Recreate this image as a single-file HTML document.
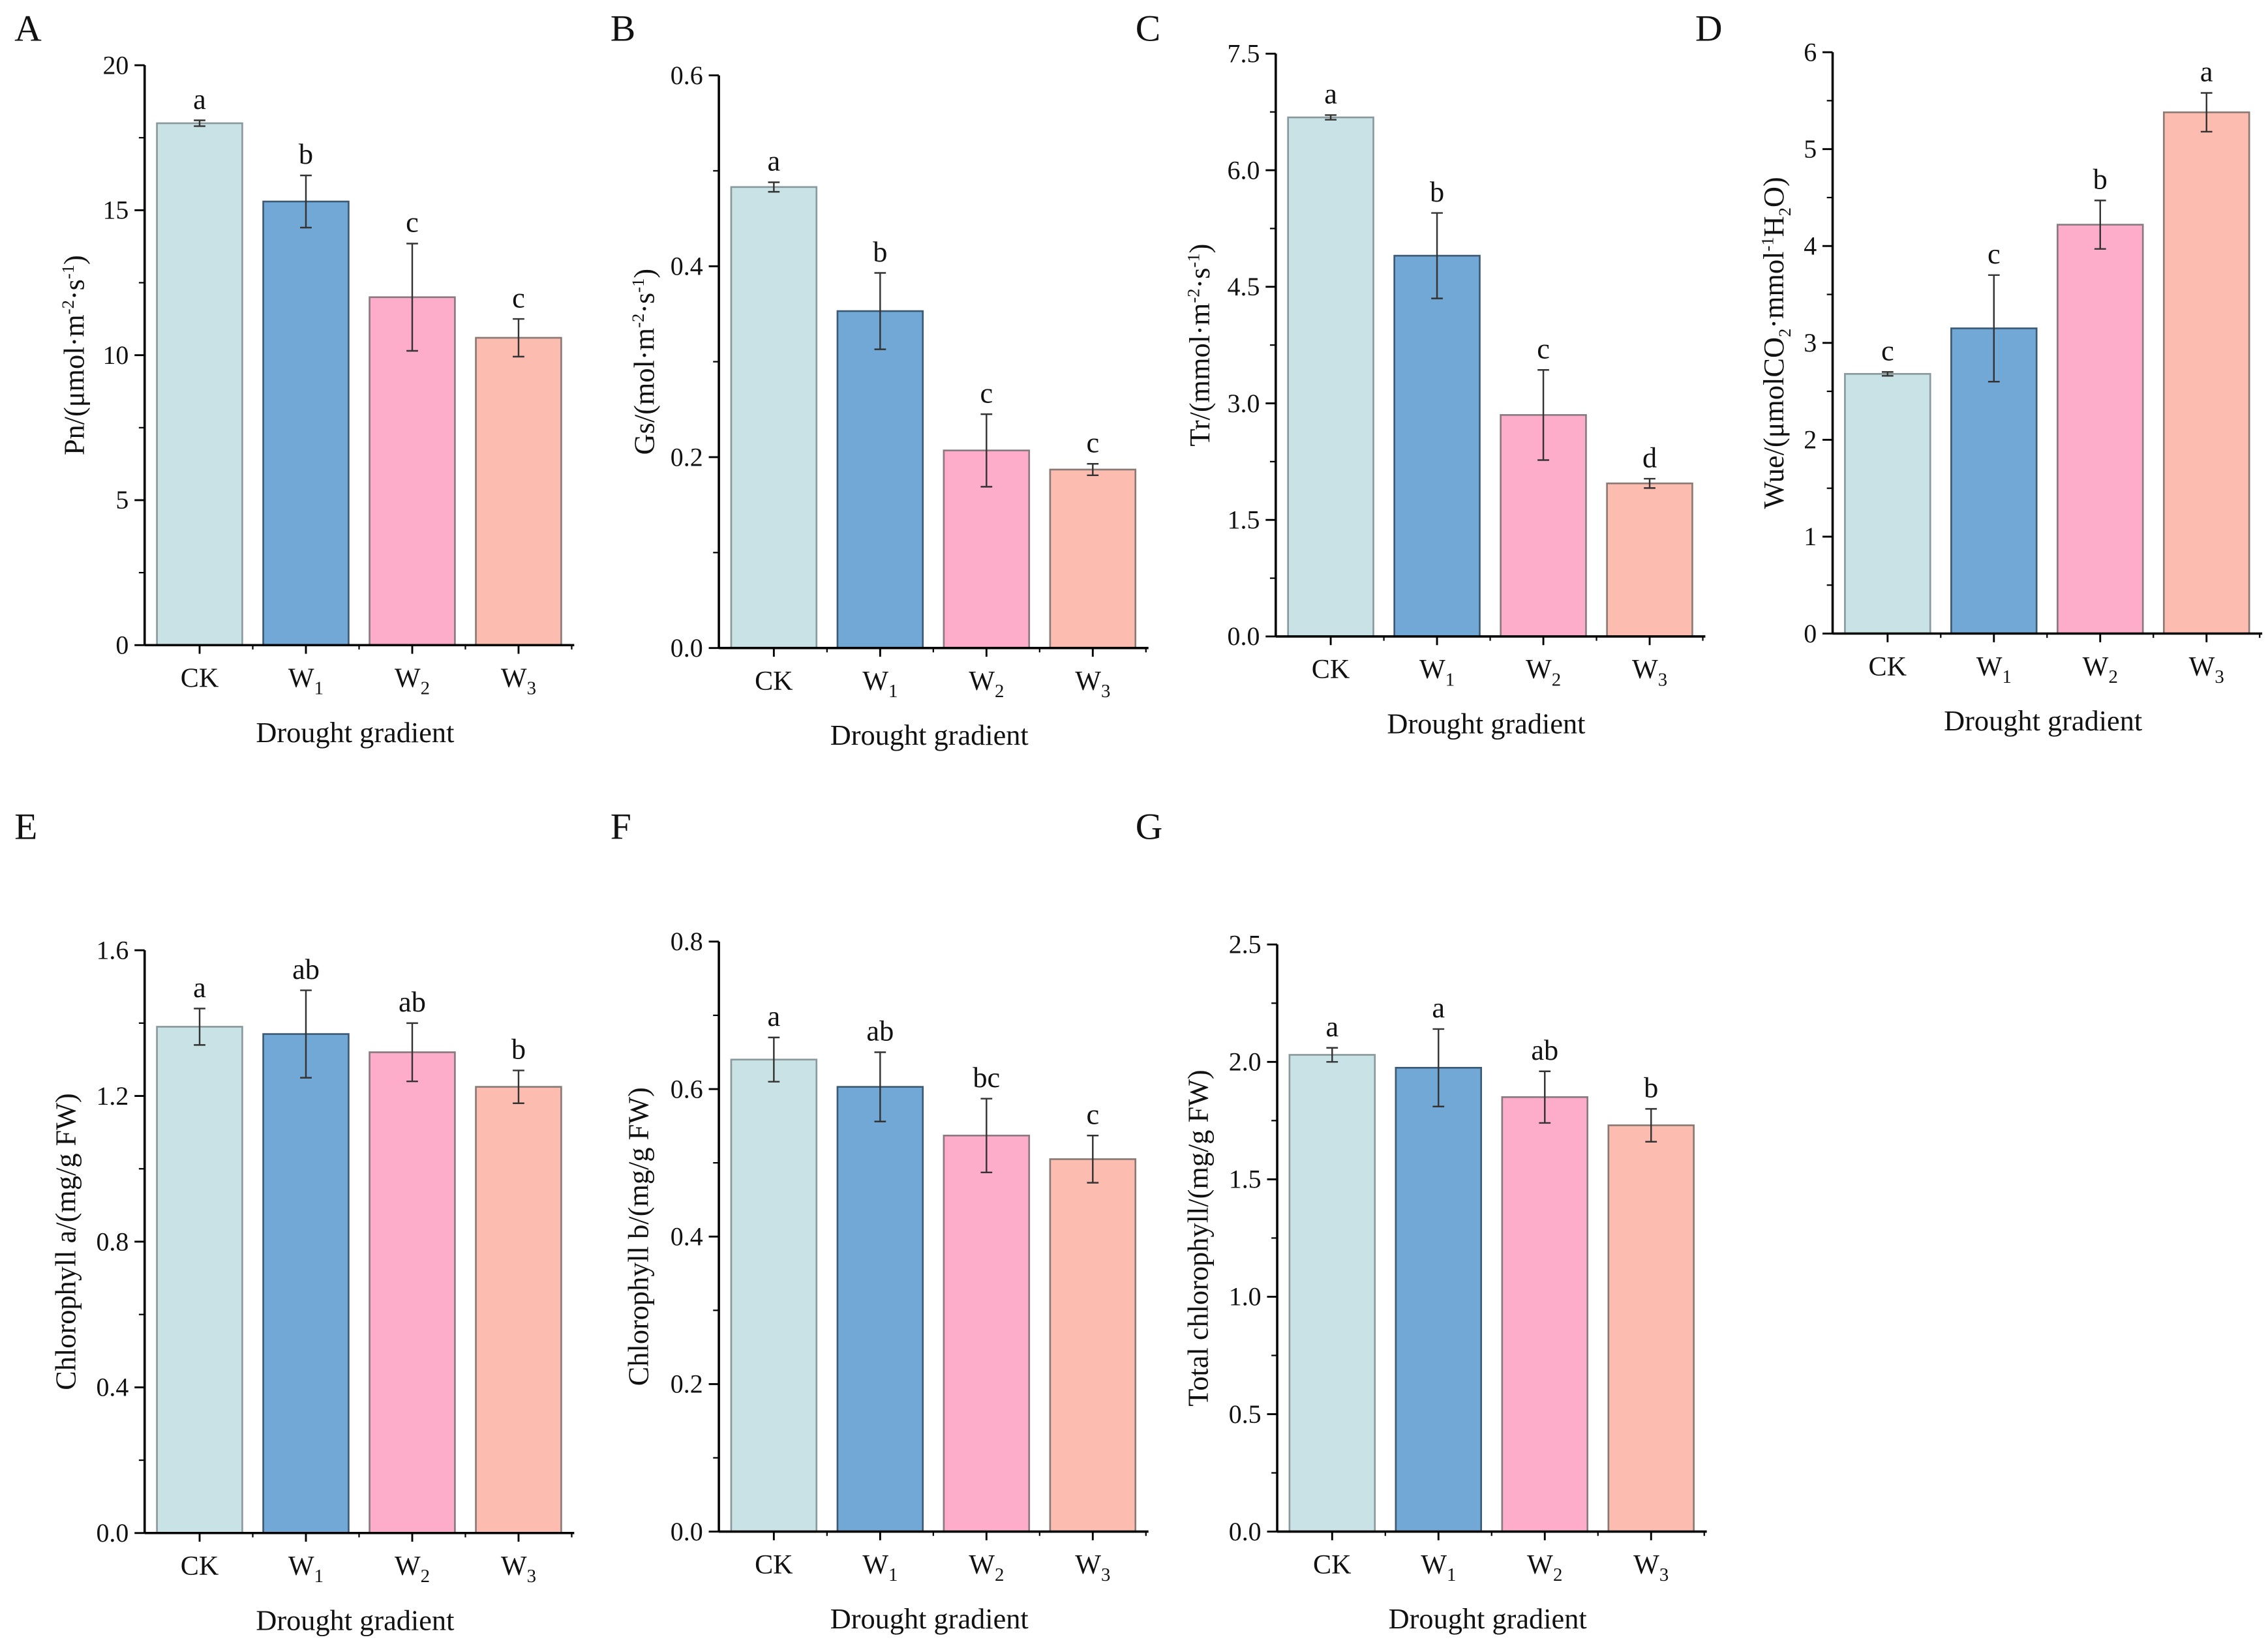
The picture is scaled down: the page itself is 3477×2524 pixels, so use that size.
<!DOCTYPE html>
<html><head><meta charset="utf-8"><style>
html,body{margin:0;padding:0;background:#fff}
svg{display:block}
svg text, svg tspan{font-family:"Liberation Serif","Times New Roman",serif !important;fill:#111}
</style></head><body>
<svg id="fig" width="3477" height="2524" viewBox="0 0 1568 1138" font-family="Liberation Serif, serif"></svg>
<script>
const categories=["CK","W1","W2","W3"];
const pnValues=[18.0,15.3,12.0,10.6];
const pnErrors=[0.1,0.9,1.85,0.65];
const pnLetters=["a","b","c","c"];
const gsValues=[0.483,0.353,0.207,0.187];
const gsErrors=[0.005,0.04,0.038,0.006];
const gsLetters=["a","b","c","c"];
const trValues=[6.68,4.9,2.85,1.97];
const trErrors=[0.03,0.55,0.58,0.06];
const trLetters=["a","b","c","d"];
const wueValues=[2.68,3.15,4.22,5.38];
const wueErrors=[0.02,0.55,0.25,0.2];
const wueLetters=["c","c","b","a"];
const chlaValues=[1.39,1.37,1.32,1.225];
const chlaErrors=[0.05,0.12,0.08,0.045];
const chlaLetters=["a","ab","ab","b"];
const chlbValues=[0.64,0.603,0.537,0.505];
const chlbErrors=[0.03,0.047,0.05,0.032];
const chlbLetters=["a","ab","bc","c"];
const totValues=[2.03,1.975,1.85,1.73];
const totErrors=[0.03,0.165,0.11,0.07];
const totLetters=["a","a","ab","b"];
const pnTicks=[0,5,10,15,20];
const gsTicks=[0,0.2,0.4,0.6];
const trTicks=[0,1.5,3,4.5,6,7.5];
const wueTicks=[0,1,2,3,4,5,6];
const chlaTicks=[0,0.4,0.8,1.2,1.6];
const chlbTicks=[0,0.2,0.4,0.6,0.8];
const totTicks=[0,0.5,1,1.5,2,2.5];

const colors=["#c8e2e6","#72a8d5","#fdadc9","#fcbcb0"];
const strokes=["#8a9a9c","#3d5a75","#8a7a80","#8a7a75"];
const NS="http://www.w3.org/2000/svg";
const svg=document.getElementById('fig');
function el(tag,attrs,parent,txt){const e=document.createElementNS(NS,tag);for(const k in attrs)e.setAttribute(k,attrs[k]);if(txt!==undefined)e.textContent=txt;(parent||svg).appendChild(e);return e;}

function panel(cfg){
  const g=el('g',{});
  
  
  const {ax,top,bot,max,ticks,vals,errs,lets,fmt}=cfg;
  const y=v=>bot-(v/max)*(bot-top);
  const pl=el('text',{x:cfg.lx,y:cfg.ly,'font-size':26},g,cfg.id);
  
  const bw=59, step=73.5, x0=ax+8.5;
  const xend=ax+step*4+3;
  vals.forEach((v,i)=>{
    const bx=x0+i*step;
    const r=el('rect',{x:bx,y:y(v),width:bw,height:bot-y(v),fill:colors[i],stroke:strokes[i],'stroke-width':1.2},g);
    
    const cx=bx+bw/2, e=errs[i];
    const eb=el('path',{d:`M${cx},${y(v+e)}V${y(v-e)}M${cx-4},${y(v+e)}H${cx+4}M${cx-4},${y(v-e)}H${cx+4}`,stroke:'#333','stroke-width':1.1,fill:'none'},g);
    
    const lt=el('text',{x:cx,y:y(v+e)-8,'font-size':20,'text-anchor':'middle'},g,lets[i]);
    
    el('line',{x1:cx,y1:bot,x2:cx,y2:bot+6,stroke:'#000','stroke-width':1.3},g);
    el('line',{x1:cx+step/2,y1:bot,x2:cx+step/2,y2:bot+3,stroke:'#000','stroke-width':1},g);
    const c=categories[i];
    const tl=el('text',{x:cx,y:bot+29,'font-size':19,'text-anchor':'middle'},g);
    
    if(c==='CK'){tl.textContent='CK';}else{
      el('tspan',{},tl,'W');el('tspan',{'font-size':13,dy:5},tl,c.slice(1));}
  });
  const xa=el('line',{x1:ax,y1:bot,x2:xend,y2:bot,stroke:'#000','stroke-width':1.6},g);
  
  const ya=el('line',{x1:ax,y1:top,x2:ax,y2:bot,stroke:'#000','stroke-width':1.6},g);
  
  ticks.forEach((t,i)=>{
    el('line',{x1:ax-7,y1:y(t),x2:ax,y2:y(t),stroke:'#000','stroke-width':1.3},g);
    if(i<ticks.length-1){const m=(t+ticks[i+1])/2;el('line',{x1:ax-4,y1:y(m),x2:ax,y2:y(m),stroke:'#000','stroke-width':1},g);}
    const tt=el('text',{x:ax-11,y:y(t)+6,'font-size':18,'text-anchor':'end'},g,fmt(t));
    
  });
  const xt=el('text',{x:(ax+xend)/2-3,y:bot+67,'font-size':20,'text-anchor':'middle'},g,'Drought gradient');
  
  const yt=el('text',{x:0,y:0,'font-size':20,'text-anchor':'middle',transform:`translate(${cfg.tx},${(top+bot)/2}) rotate(-90)`},g);
  
  cfg.title.forEach(p=>{el('tspan',p.sup?{'font-size':12,dy:-7}:p.sub?{'font-size':12,dy:5}:{dy:p.back||0},yt,p.t);});
}
const f0=t=>String(t), f1=t=>t.toFixed(1);
panel({id:'A',lx:10,ly:28,ax:100,top:45,bot:446,max:20,ticks:pnTicks,vals:pnValues,errs:pnErrors,lets:pnLetters,fmt:f0,tx:58,
 title:[{t:'Pn/(μmol·m'},{t:'-2',sup:1},{t:'·s',back:7},{t:'-1',sup:1},{t:')',back:7}]});
panel({id:'B',lx:422,ly:28,ax:497,top:52,bot:448,max:0.6,ticks:gsTicks,vals:gsValues,errs:gsErrors,lets:gsLetters,fmt:f1,tx:452,
 title:[{t:'Gs/(mol·m'},{t:'-2',sup:1},{t:'·s',back:7},{t:'-1',sup:1},{t:')',back:7}]});
panel({id:'C',lx:785,ly:28,ax:882,top:37,bot:440,max:7.5,ticks:trTicks,vals:trValues,errs:trErrors,lets:trLetters,fmt:f1,tx:836,
 title:[{t:'Tr/(mmol·m'},{t:'-2',sup:1},{t:'·s',back:7},{t:'-1',sup:1},{t:')',back:7}]});
panel({id:'D',lx:1172,ly:28,ax:1267,top:36,bot:438,max:6,ticks:wueTicks,vals:wueValues,errs:wueErrors,lets:wueLetters,fmt:f0,tx:1233,
 title:[{t:'Wue/(μmolCO'},{t:'2',sub:1},{t:'·mmol',back:-5},{t:'-1',sup:1},{t:'H',back:7},{t:'2',sub:1},{t:'O)',back:-5}]});
panel({id:'E',lx:10,ly:580,ax:100,top:657,bot:1060,max:1.6,ticks:chlaTicks,vals:chlaValues,errs:chlaErrors,lets:chlaLetters,fmt:f1,tx:52,
 title:[{t:'Chlorophyll a/(mg/g FW)'}]});
panel({id:'F',lx:422,ly:580,ax:497,top:651,bot:1059,max:0.8,ticks:chlbTicks,vals:chlbValues,errs:chlbErrors,lets:chlbLetters,fmt:f1,tx:448,
 title:[{t:'Chlorophyll b/(mg/g FW)'}]});
panel({id:'G',lx:785,ly:580,ax:883,top:653,bot:1059,max:2.5,ticks:totTicks,vals:totValues,errs:totErrors,lets:totLetters,fmt:f1,tx:835,
 title:[{t:'Total chlorophyll/(mg/g FW)'}]});
</script>
</body></html>
